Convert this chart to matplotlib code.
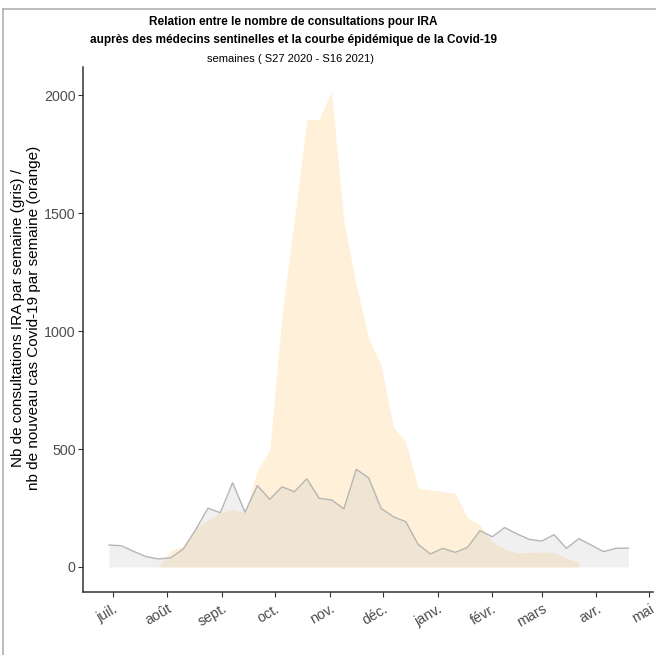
import matplotlib
matplotlib.use("Agg")
import matplotlib.pyplot as plt
from matplotlib.lines import Line2D
import pandas as pd

plt.rcParams['font.family'] = ['Liberation Sans', 'DejaVu Sans']

# consultations IRA par semaine (S27 2020 - S16 2021)
ira = [93, 90, 66, 44, 34, 39, 76, 157, 249, 230, 357, 232, 345, 287, 340,
       319, 374, 291, 284, 247, 414, 378, 249, 213, 192, 96, 55, 79, 62, 83,
       154, 128, 167, 140, 117, 110, 137, 79, 120, 93, 65, 79, 80]
# nouveaux cas Covid-19 par semaine (S31 2020 - S12 2021)
covid = [2, 72, 86, 164, 199, 230, 245, 230, 411, 496, 1075, 1478, 1897, 1897,
         2018, 1465, 1195, 970, 858, 594, 531, 335, 327, 320, 312, 209, 178,
         107, 76, 61, 61, 64, 62, 37, 20]

semaines_ira = pd.date_range("2020-06-29", periods=len(ira), freq="7D")
semaines_covid = pd.date_range("2020-07-27", periods=len(covid), freq="7D")

mois = pd.date_range("2020-07-01", "2021-05-01", freq="MS")
mois_labels = ["juil.", "août", "sept.", "oct.", "nov.", "déc.",
               "janv.", "févr.", "mars", "avr.", "mai"]

fig = plt.figure(figsize=(6.56, 6.55), dpi=100)
ax = fig.add_axes([0.1258, 0.0962, 0.8696, 0.8015])

ax.fill_between(semaines_covid, 0, covid, color="orange", alpha=0.15, lw=0)
ax.fill_between(semaines_ira, 0, ira, color="#bebebe", alpha=0.22, lw=0)
ax.plot(semaines_ira, ira, color="#b5b5b5", lw=1.0)

ax.set_xlim(pd.Timestamp("2020-06-14"), pd.Timestamp("2021-05-03"))
ax.set_ylim(-106, 2119)
ax.set_yticks([0, 500, 1000, 1500, 2000])
ax.set_xticks(mois)
ax.set_xticklabels(mois_labels, rotation=30, ha="right", va="top",
                   rotation_mode="anchor")
ax.tick_params(colors="#333333", labelcolor="#4d4d4d", labelsize=10.3,
               length=3.6)
ax.tick_params(axis="y", pad=1.2)
for s in ["top", "right"]:
    ax.spines[s].set_visible(False)
for s in ["left", "bottom"]:
    ax.spines[s].set_color("#333333")
    ax.spines[s].set_linewidth(1.1)

# titre de l'axe y sur deux lignes
fig.text(18 / 656, 0.5145, "Nb de consultations IRA par semaine (gris) /",
         rotation=90, ha="center", va="center", fontsize=11)
fig.text(34 / 656, 0.5145, "nb de nouveau cas Covid-19 par semaine (orange)",
         rotation=90, ha="center", va="center", fontsize=11)

fig.text(0.447, 1 - 21.5 / 655, "Relation entre le nombre de consultations pour IRA",
         ha="center", va="center", fontsize=8.5, fontweight="bold")
fig.text(0.447, 1 - 40 / 655,
         "auprès des médecins sentinelles et la courbe épidémique de la Covid-19",
         ha="center", va="center", fontsize=8.5, fontweight="bold")
fig.text(0.443, 1 - 59 / 655, "semaines ( S27 2020 - S16 2021)", ha="center",
         va="center", fontsize=8.0)

# cadre gris autour de la figure
fig.add_artist(Line2D([0.005, 1], [0.987, 0.987], color="#b0b0b0", lw=1.2))
fig.add_artist(Line2D([0.005, 0.005], [0, 0.987], color="#b0b0b0", lw=1.2))

fig.savefig("out.png", dpi=100)
